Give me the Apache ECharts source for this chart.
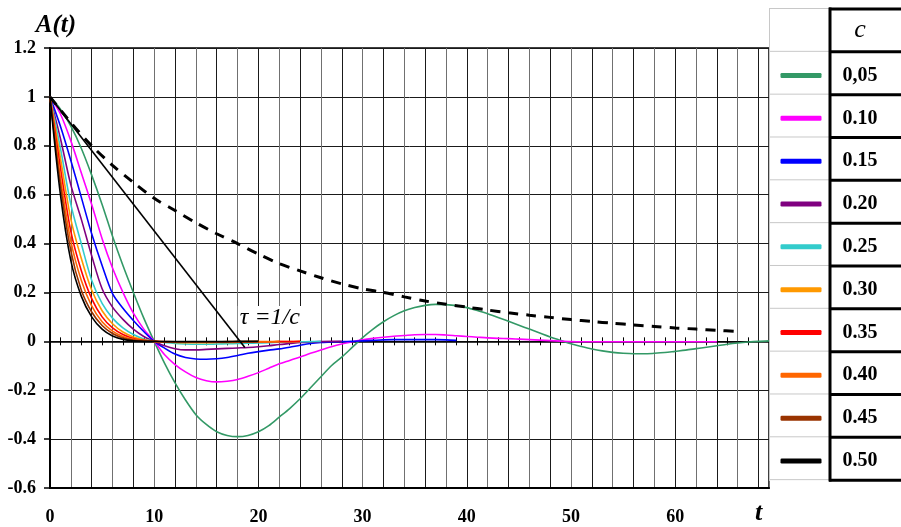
<!DOCTYPE html>
<html><head><meta charset="utf-8">
<script src="https://cdn.jsdelivr.net/npm/echarts@6/dist/echarts.min.js"></script>
<style>html,body{margin:0;padding:0;background:#fff}#c{width:901px;height:527px}</style>
</head><body><div id="c"></div>
<script>
// ---------- data ----------
const cLabels = ['0,05','0.10','0.15','0.20','0.25','0.30','0.35','0.40','0.45','0.50'];
const seriesColors = ['#339966','#ff00ff','#0000ff','#800080','#33cccc','#ff9900','#ff0000','#ff6600','#993300','#000000'];
// values at t = 0, 1, 2, ...
const A_005 = [1.0,0.95,0.88,0.79,0.68,0.56,0.43,0.31,0.20,0.095,0.0,
  -0.09,-0.17,-0.24,-0.30,-0.34,-0.37,-0.385,-0.39,-0.385,-0.37,-0.345,-0.31,-0.275,-0.235,-0.19,-0.145,-0.10,-0.065,-0.025,
  0.015,0.05,0.08,0.105,0.125,0.138,0.147,0.151,0.15,0.146,0.138,0.126,0.113,0.098,0.082,0.066,0.05,0.034,0.018,0.004,
  -0.01,-0.021,-0.031,-0.039,-0.045,-0.049,-0.051,-0.051,-0.049,-0.046,-0.041,-0.036,-0.03,-0.024,-0.018,-0.012,-0.007,-0.003,0.0,0.002];
const A_010 = [1.0,0.93,0.82,0.69,0.56,0.42,0.30,0.20,0.115,0.05,0.0,
  -0.055,-0.095,-0.125,-0.148,-0.161,-0.166,-0.163,-0.156,-0.143,-0.128,-0.11,-0.092,-0.078,-0.064,-0.049,-0.035,-0.022,-0.011,-0.002,
  0.006,0.012,0.017,0.021,0.024,0.027,0.028,0.028,0.026,0.023,0.02,0.017,0.014,0.012,0.011,0.009,0.007,0.005,0.003,0.001,
  -0.001,-0.002,-0.002,-0.002,-0.002,-0.002,-0.002,-0.002,-0.002,-0.002,-0.002,-0.002,-0.002,-0.002,-0.002];
const A_015 = [1.0,0.88,0.74,0.59,0.44,0.31,0.195,0.135,0.085,0.04,0.0,
  -0.028,-0.052,-0.066,-0.072,-0.073,-0.071,-0.066,-0.058,-0.049,-0.042,-0.036,-0.031,-0.024,-0.016,-0.009,-0.005,-0.003,-0.001,0.0,
  0.002,0.004,0.006,0.007,0.007,0.007,0.007,0.007,0.006,0.004];
const A_020 = [1.0,0.83,0.64,0.50,0.35,0.215,0.14,0.09,0.05,0.02,0.0,
  -0.018,-0.03,-0.035,-0.035,-0.033,-0.031,-0.029,-0.027,-0.025,-0.022,-0.018,-0.013,-0.009,-0.005,-0.003,-0.001,0.0,0.0];
const A_025 = [1.0,0.79,0.56,0.40,0.25,0.155,0.095,0.055,0.028,0.01,0.0,
  -0.005,-0.009,-0.011,-0.012,-0.012,-0.011,-0.01,-0.009,-0.008,-0.007,-0.006,-0.004,-0.003,-0.002,-0.001,0.0];
const A_030 = [1.0,0.75,0.50,0.34,0.21,0.125,0.072,0.038,0.018,0.006,0.0,
  -0.003,-0.005,-0.006,-0.006,-0.006,-0.005,-0.005,-0.004,-0.003,-0.003,-0.002,-0.001,-0.001,0.0];
const A_035 = [1.0,0.71,0.45,0.29,0.175,0.10,0.055,0.028,0.012,0.004,0.0,
  -0.002,-0.003,-0.004,-0.004,-0.004,-0.004,-0.003,-0.003,-0.003,-0.002,-0.002,-0.001,-0.001,0.0];
const A_040 = [1.0,0.67,0.41,0.25,0.145,0.08,0.042,0.02,0.008,0.002,0.0,
  -0.002,-0.003,-0.003,-0.003,-0.003,-0.002,-0.002,-0.002,-0.001,-0.001,-0.001,0.0];
const A_045 = [1.0,0.64,0.37,0.21,0.12,0.065,0.032,0.014,0.005,0.001,0.0,
  -0.001,-0.002,-0.002,-0.002,-0.002,-0.002,-0.001,-0.001,-0.001,0.0];
const A_050 = [1.0,0.60,0.33,0.185,0.10,0.05,0.022,0.008,0.002,0.0,0.0,
  -0.001,-0.001,-0.001,-0.001,-0.001,-0.001,-0.001,0.0,0.0,0.0];
const curveValues = [A_005,A_010,A_015,A_020,A_025,A_030,A_035,A_040,A_045,A_050];

// dashed envelope
const dashT = [0,2,4,6,8,10,12,14,16,18,20,22,24,26,28,30,32,34,36,38,40,42,44,46,48,50,52,54,56,58,60,62,64,66];
const dashA = [1.0,0.895,0.80,0.72,0.65,0.585,0.535,0.485,0.44,0.40,0.357,0.318,0.288,0.26,0.235,0.215,0.2,0.182,0.165,0.152,0.14,0.128,0.117,0.107,0.098,0.089,0.081,0.074,0.067,0.061,0.055,0.05,0.045,0.04];
// tangent line
const tangentT = [0, 18.7];
const tangentA = [1, -0.025];
const tangentLabel = 'τ =1/c';
const tangentLabelAt = [21.1, 0.095];

const xLabelValues = [0,10,20,30,40,50,60];
const xNameAt = 68;
const xName = 't';
const yName = 'A(t)';
const legendTitle = 'c';

// ---------- chart ----------
const chart = echarts.init(document.getElementById('c'), null, {renderer:'canvas'});
const serif = 'Liberation Serif';
const oddTicks = [];
for (let v = 1; v <= 67; v += 2) oddTicks.push(v);

const series = curveValues.map((vals, i) => ({
  name: cLabels[i], type: 'line', xAxisIndex: 0, yAxisIndex: 0,
  data: vals.map((v, t) => [t, v]),
  showSymbol: false, smooth: 0.3, animation: false, silent: true,
  lineStyle: {color: seriesColors[i], width: 1.6},
  itemStyle: {color: seriesColors[i]},
  z: 3
}));
series.push({
  name: 'envelope', type: 'line', data: dashT.map((t, i) => [t, dashA[i]]),
  showSymbol: false, smooth: 0.3, animation: false, silent: true,
  lineStyle: {color: '#000', width: 3, type: [10, 8]}, z: 4
});
series.push({
  name: 'tangent', type: 'line', data: tangentT.map((t, i) => [t, tangentA[i]]),
  showSymbol: false, animation: false, silent: true,
  lineStyle: {color: '#000', width: 1.6}, z: 4,
  markPoint: {
    symbol: 'circle', symbolSize: 0, silent: true, animation: false,
    data: [{coord: tangentLabelAt, value: 0}],
    label: {show: true, position: 'inside', formatter: tangentLabel, color: '#000',
      fontFamily: serif, fontStyle: 'italic', fontSize: 24, backgroundColor: '#fff', padding: [0, 2]}
  }
});

// legend table decoration
const graphics = [];
const rowPitch = 42.83, tableTop = 9;
graphics.push({type:'line', shape:{x1:769.5, y1:8, x2:769.5, y2:481}, style:{stroke:'#c8c8c8', lineWidth:1}, z:1});
for (let i = 0; i <= 11; i++) {
  const y = tableTop + rowPitch * i;
  graphics.push({type:'line', shape:{x1:769, y1:y-0.5, x2:829, y2:y-0.5}, style:{stroke:'#c8c8c8', lineWidth:1}, z:1});
  graphics.push({type:'line', shape:{x1:829, y1:y, x2:905, y2:y}, style:{stroke:'#000', lineWidth:3}, z:2});
}
graphics.push({type:'line', shape:{x1:830, y1:7.5, x2:830, y2:481.5}, style:{stroke:'#000', lineWidth:3}, z:2});
graphics.push({type:'text', x:860, y:30.5, style:{text: legendTitle, font:'italic 26px "Liberation Serif"', fill:'#000', align:'center', verticalAlign:'middle'}, z:3});

const baseLabel = {fontFamily: serif, fontWeight: 'bold', fontSize: 18, color: '#000'};
const zeroAxisBase = {type: 'value', min: 0, max: 69, axisLabel: {show: false}, splitLine: {show: false}};

chart.setOption({
  backgroundColor: '#fff',
  animation: false,
  grid: {left: 50, top: 48, right: 132, bottom: 39, outerBoundsMode: 'none', containLabel: false,
    show: true, borderColor: '#000', borderWidth: 1.5, backgroundColor: 'transparent'},
  xAxis: [
    {type: 'value', min: 0, max: 69, interval: 2, position: 'bottom',
      axisLine: {show: true, onZero: false, lineStyle: {color: '#000', width: 2}},
      axisTick: {show: false},
      axisLabel: Object.assign({}, baseLabel, {
        customValues: xLabelValues.concat([xNameAt]), margin: 20,
        formatter: v => v === xNameAt ? '{t|' + xName + '}' : String(v),
        rich: {t: {fontFamily: serif, fontStyle: 'italic', fontWeight: 'bold', fontSize: 26, color: '#000', lineHeight: 10}}
      }),
      splitLine: {show: true, lineStyle: {color: ['#1a1a1a', '#707070'], width: 1}}
    },
    Object.assign({}, zeroAxisBase, {position: 'bottom',
      axisLine: {show: true, onZero: true, onZeroAxisIndex: 0, lineStyle: {color: '#000', width: 1.5}},
      axisTick: {show: true, customValues: oddTicks, length: 4, lineStyle: {color: '#000', width: 1}}
    }),
    Object.assign({}, zeroAxisBase, {position: 'top',
      axisLine: {show: false, onZero: true, onZeroAxisIndex: 1},
      axisTick: {show: true, customValues: oddTicks, length: 4, lineStyle: {color: '#000', width: 1}}
    })
  ],
  yAxis: [{
    type: 'value', min: -0.6, max: 1.2, interval: 0.2,
    axisLine: {show: true, onZero: false, lineStyle: {color: '#000', width: 2}},
    axisTick: {show: true, length: 6, lineStyle: {color: '#000', width: 1.5}},
    axisLabel: Object.assign({}, baseLabel, {margin: 14, formatter: v => String(Number(v.toFixed(1)))}),
    splitLine: {show: true, lineStyle: {color: '#1a1a1a', width: 1}},
    name: yName, nameLocation: 'end', nameGap: 22,
    nameTextStyle: {fontFamily: serif, fontStyle: 'italic', fontWeight: 'bold', fontSize: 25, color: '#000', align: 'center', verticalAlign: 'middle', padding: [0, 0, 0, 12]}
  }, {
    type: 'value', min: -0.6, max: 1.2, interval: 0.2, position: 'right',
    axisLine: {show: false, onZero: false}, axisTick: {show: false}, axisLabel: {show: false}, splitLine: {show: false}
  }],
  legend: {
    data: cLabels, orient: 'vertical', left: 780.5, top: 65.5, padding: 0,
    itemWidth: 41, itemHeight: 5, itemGap: rowPitch - 20, icon: 'roundRect', selectedMode: false,
    textStyle: {fontFamily: serif, fontWeight: 'bold', fontSize: 20, color: '#000', lineHeight: 20, padding: [0, 0, 0, 16]}
  },
  graphic: graphics,
  series: series
});
</script></body></html>
